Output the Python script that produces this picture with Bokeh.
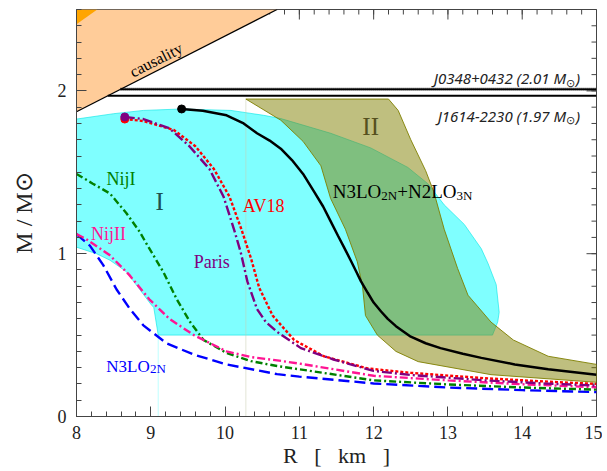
import math
from bokeh.plotting import figure
from bokeh.models import Range1d, FixedTicker
from bokeh.core.properties import value
from bokeh.embed import file_html
from bokeh.resources import INLINE

# ---------------- data ----------------
x_major = [8, 9, 10, 11, 12, 13, 14, 15]
x_minor = [round(8 + 0.2 * i, 1) for i in range(36)]
y_major = [0, 1, 2]
y_minor = [round(0.1 * i, 1) for i in range(26)]

# causality region
causal_r = [8.0, 10.70, 8.0]
causal_m = [1.872, 2.5, 2.5]
corner_r = [8.0, 8.28, 8.0]
corner_m = [2.5, 2.5, 2.41]

# pulsar masses
pulsar_names = ["J0348+0432", "J1614-2230"]
pulsar_mass = [2.01, 1.97]
pulsar_r0 = [8.593, 8.421]

# region I (cyan)
reg1_r = [8.0, 8.5, 8.9, 9.415, 10.08, 10.52, 10.75, 11.42, 11.96, 12.46, 12.73, 12.95,
          13.22, 13.45, 13.54, 13.65, 13.69, 13.67, 13.6, 9.1, 9.04, 9.0, 8.67, 8.45, 8.27, 8.0]
reg1_m = [1.827, 1.86, 1.88, 1.889, 1.88, 1.85, 1.83, 1.74, 1.65, 1.53, 1.43, 1.30,
          1.18, 1.03, 0.94, 0.81, 0.64, 0.58, 0.50, 0.50, 0.67, 0.69, 0.89, 0.96, 1.0, 1.04]

# region II (olive)
reg2_r = [10.28, 12.2, 12.33, 12.5, 12.7, 12.81, 12.95, 13.13, 13.27, 13.58, 13.88, 14.35, 15.0,
          15.0, 13.58, 12.6, 12.3, 12.05, 11.89, 11.85, 11.78, 11.62, 11.42, 11.29, 11.05, 10.75]
reg2_m = [1.95, 1.95, 1.88, 1.70, 1.51, 1.38, 1.15, 0.91, 0.745, 0.58, 0.47, 0.37, 0.32,
          0.21, 0.257, 0.337, 0.40, 0.50, 0.62, 0.80, 0.95, 1.15, 1.34, 1.54, 1.69, 1.82]

# M-R curves
full_r = [9.415, 9.7, 10.02, 10.25, 10.43, 10.6, 10.75, 10.9, 11.05, 11.2, 11.32, 11.42,
          11.52, 11.6, 11.69, 11.76, 11.83, 11.92, 12.0, 12.1, 12.19, 12.3, 12.5, 12.7,
          12.9, 13.2, 13.45, 13.9, 14.35, 15.0]
full_m = [1.889, 1.878, 1.85, 1.80, 1.74, 1.695, 1.645, 1.575, 1.49, 1.38, 1.29, 1.20,
          1.11, 1.04, 0.96, 0.895, 0.83, 0.76, 0.70, 0.645, 0.60, 0.555, 0.49, 0.45,
          0.42, 0.385, 0.36, 0.32, 0.29, 0.256]

paris_r = [8.65, 8.9, 9.25, 9.52, 9.79, 9.98, 10.12, 10.21, 10.3, 10.43, 10.55, 10.7,
           11.02, 11.46, 12.0, 12.5, 13.5, 14.3, 15.0]
paris_m = [1.84, 1.827, 1.77, 1.66, 1.52, 1.35, 1.15, 1.01, 0.83, 0.66, 0.58, 0.52,
           0.42, 0.35, 0.28, 0.255, 0.222, 0.203, 0.19]

av18_r = [8.65, 8.9, 9.31, 9.6, 9.85, 10.06, 10.22, 10.35, 10.46, 10.64, 10.93, 11.33,
          11.92, 12.5, 13.5, 14.3, 15.0]
av18_m = [1.827, 1.815, 1.76, 1.66, 1.52, 1.35, 1.15, 0.97, 0.79, 0.62, 0.47, 0.37,
          0.295, 0.268, 0.235, 0.215, 0.20]

niji_r = [8.0, 8.22, 8.45, 8.67, 8.85, 8.94, 9.17, 9.35, 9.53, 9.71, 10.02, 10.35, 10.7,
          11.0, 12.0, 13.0, 14.0, 15.0]
niji_m = [1.49, 1.43, 1.37, 1.25, 1.135, 1.063, 0.887, 0.72, 0.58, 0.47, 0.39, 0.34, 0.31,
          0.29, 0.222, 0.197, 0.178, 0.165]

nijii_r = [8.0, 8.13, 8.45, 8.71, 8.98, 9.25, 9.58, 10.02, 10.35, 10.7, 11.0, 12.0, 13.0,
           14.0, 15.0]
nijii_m = [1.12, 1.09, 0.99, 0.87, 0.72, 0.60, 0.50, 0.40, 0.365, 0.345, 0.325, 0.25,
           0.222, 0.198, 0.18]

n3lo_r = [8.0, 8.18, 8.36, 8.54, 8.72, 8.9, 9.21, 9.58, 10.02, 10.7, 11.0, 12.0, 13.0,
          14.0, 15.0]
n3lo_m = [1.12, 1.05, 0.93, 0.78, 0.66, 0.56, 0.45, 0.38, 0.32, 0.26, 0.245, 0.203, 0.178,
          0.162, 0.15]

# ---------------- figure ----------------
p = figure(width=602, height=470, x_range=Range1d(8, 15), y_range=Range1d(0, 2.5),
           output_backend="svg", toolbar_location=None,
           min_border_left=76, min_border_right=6, min_border_top=9, min_border_bottom=20)
p.xgrid.visible = False
p.ygrid.visible = False
p.outline_line_color = "#444444"
p.background_fill_color = "white"

xt = FixedTicker(ticks=x_major, minor_ticks=x_minor)
yt = FixedTicker(ticks=y_major, minor_ticks=y_minor)

for ax, tk in ((p.xaxis[0], xt), (p.yaxis[0], yt)):
    ax.ticker = tk
    ax.major_tick_in = 10
    ax.major_tick_out = 0
    ax.minor_tick_in = 5
    ax.minor_tick_out = 0
    ax.axis_line_color = "#444444"
    ax.major_tick_line_color = "#444444"
    ax.minor_tick_line_color = "#444444"
    ax.major_label_text_font = "Liberation Serif"
    ax.major_label_text_font_size = "18px"
    ax.major_label_text_color = "#222222"
    ax.axis_label_text_font = "Liberation Serif"
    ax.axis_label_text_font_style = "normal"
    ax.axis_label_text_color = "#222222"

nb = "\u00a0"
p.xaxis[0].axis_label = f"R{nb*3}[{nb*3}km{nb*3}]"
p.xaxis[0].axis_label_text_font_size = "22px"
p.xaxis[0].major_label_standoff = 9
p.xaxis[0].axis_label_standoff = 1
p.yaxis[0].axis_label = f"M{nb}/{nb}M\u2299"
p.yaxis[0].axis_label_text_font_size = "24px"
p.yaxis[0].major_label_standoff = 10
p.yaxis[0].axis_label_standoff = 18

# mirrored ticks on top and right (drawn inside the frame)
tick_col = "#444444"
p.scatter(x_major, [2.5] * len(x_major), marker="dash", angle=math.pi / 2, size=20,
          line_color=tick_col, line_width=1)
p.scatter(x_minor, [2.5] * len(x_minor), marker="dash", angle=math.pi / 2, size=10,
          line_color=tick_col, line_width=1)
p.scatter([15] * len(y_major), y_major, marker="dash", size=20,
          line_color=tick_col, line_width=1)
p.scatter([15] * len(y_minor), y_minor, marker="dash", size=10,
          line_color=tick_col, line_width=1)

# regions
p.patch(causal_r, causal_m, fill_color="#FFCC99", line_color=None)
p.patch(corner_r, corner_m, fill_color="#FFA500", line_color=None)
p.line(causal_r[:2], causal_m[:2], line_color="black", line_width=1.2)

p.patch(reg1_r, reg1_m, fill_color="#00FFFF", fill_alpha=0.5,
        line_color="#00E5E5", line_alpha=0.6, line_width=1)
p.segment(x0=[reg1_r[19]], y0=[0], x1=[reg1_r[19]], y1=[reg1_m[19]],
          line_color="#00FFFF", line_alpha=0.25, line_width=1)
p.segment(x0=[reg2_r[0]], y0=[0], x1=[reg2_r[0]], y1=[reg2_m[0]],
          line_color="#C8CCB0", line_alpha=0.5, line_width=1)
p.patch(reg2_r, reg2_m, fill_color="#808000", fill_alpha=0.5,
        line_color="#808000", line_alpha=0.9, line_width=1)

# pulsar lines
p.line([pulsar_r0[0], 15], [pulsar_mass[0]] * 2, line_color="black", line_width=1.5)
p.line([pulsar_r0[0], 15], [pulsar_mass[0] + 0.006] * 2, line_color="black",
       line_width=1.2, line_dash="1 1")
p.line([pulsar_r0[0], 15], [pulsar_mass[0] - 0.006] * 2, line_color="black",
       line_width=1.2, line_dash="1 1")
p.line([pulsar_r0[1], 15], [pulsar_mass[1]] * 2, line_color="black", line_width=2)

# curves
p.line(n3lo_r, n3lo_m, line_color="#0000FF", line_width=2.4, line_dash="11 5")
p.line(niji_r, niji_m, line_color="#008000", line_width=2.4, line_dash="7 3 2 3")
p.line(nijii_r, nijii_m, line_color="#FF1493", line_width=2.4, line_dash="8 3 2 3")
p.line(av18_r, av18_m, line_color="#FF0000", line_width=2.4, line_dash="3 2")
p.line(paris_r, paris_m, line_color="#800080", line_width=2.4, line_dash="10 3 2 3")
p.line(full_r, full_m, line_color="black", line_width=2.5)

p.scatter([av18_r[0]], [av18_m[0]], size=8, color="#FF0000")
p.scatter([paris_r[0]], [paris_m[0]], size=8, color="#800080")
p.scatter([full_r[0]], [full_m[0]], size=8, color="black")

serif = value("Liberation Serif")

# causality text
p.text(x=[9.07], y=[2.19], text=["causality"], angle=math.atan2(102, 200.7),
       text_font=serif, text_font_size="16px", text_color="black",
       text_align="center", text_baseline="middle")

# region labels
p.text(x=[9.12], y=[1.32], text=["I"], text_font=serif, text_font_size="25px",
       text_color="#1F4F4F", text_align="center", text_baseline="middle")
p.text(x=[11.96], y=[1.78], text=["II"], text_font=serif, text_font_size="25px",
       text_color="#55501E", text_align="center", text_baseline="middle")

# curve labels
curve_labels = ["NijI", "NijII", "AV18", "Paris"]
curve_label_r = [8.6, 8.43, 10.52, 9.82]
curve_label_m = [1.46, 1.12, 1.29, 0.95]
curve_label_c = ["#008000", "#FF1493", "#FF0000", "#800080"]
p.text(x=curve_label_r, y=curve_label_m, text=curve_labels, text_font=serif,
       text_font_size="18px", text_color=curve_label_c, text_align="center",
       text_baseline="middle")

# N3LO2N label (blue)
p.text(x=[8.40], y=[0.31], text=["N3LO"], text_font=serif, text_font_size="17px",
       text_color="#0000FF", text_align="left", text_baseline="alphabetic")
p.text(x=[8.99], y=[0.292], text=["2N"], text_font=serif, text_font_size="13px",
       text_color="#0000FF", text_align="left", text_baseline="alphabetic")

# N3LO2N+N2LO3N label (black)
p.text(x=[11.45], y=[1.38], text=["N3LO"], text_font=serif, text_font_size="19px",
       text_color="black", text_align="left", text_baseline="alphabetic")
p.text(x=[12.104], y=[1.357], text=["2N"], text_font=serif, text_font_size="13px",
       text_color="black", text_align="left", text_baseline="alphabetic")
p.text(x=[12.318], y=[1.38], text=["+N2LO"], text_font=serif, text_font_size="19px",
       text_color="black", text_align="left", text_baseline="alphabetic")
p.text(x=[13.115], y=[1.357], text=["3N"], text_font=serif, text_font_size="13px",
       text_color="black", text_align="left", text_baseline="alphabetic")

# pulsar labels
sans = value("Noto Sans")
pl_base = [2.077, 1.847]
for name, mass, base in zip(pulsar_names, pulsar_mass, pl_base):
    p.text(x=[14.59], y=[base], text=[f"{name} ({mass:.2f} M"], text_font=sans,
           text_font_style="italic", text_font_size="15px", text_color="#222222",
           text_align="right", text_baseline="alphabetic")
    p.text(x=[14.595], y=[base - 0.025], text=["\u2299"], text_font=sans,
           text_font_size="11px", text_color="#222222", text_align="left",
           text_baseline="alphabetic")
    p.text(x=[14.72], y=[base], text=[")"], text_font=sans, text_font_style="italic",
           text_font_size="15px", text_color="#222222", text_align="left",
           text_baseline="alphabetic")

open("out.html", "w").write(file_html(p, INLINE))
